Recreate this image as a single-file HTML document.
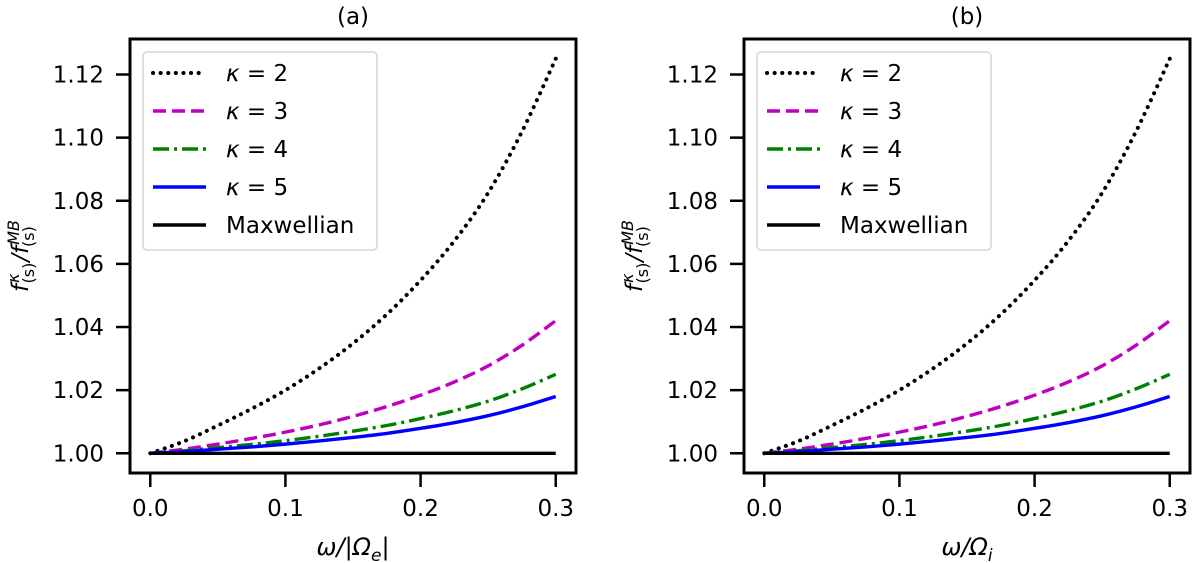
<!DOCTYPE html>
<html><head><meta charset="utf-8">
<style>
html,body{margin:0;padding:0;background:#fff;}
svg{display:block;font-family:"DejaVu Sans","Liberation Sans",sans-serif;}
</style></head>
<body>
<svg id="fig" width="1200" height="563" viewBox="0 0 1200 563" xmlns="http://www.w3.org/2000/svg"></svg>
<script>
const xValues = [0, 0.025, 0.05, 0.075, 0.1, 0.125, 0.15, 0.175, 0.2, 0.225, 0.25, 0.275, 0.3];
const kappa2 = [1.000, 1.0038, 1.0088, 1.0141, 1.0200, 1.0269, 1.0348, 1.0440, 1.0548, 1.0673, 1.0825, 1.1019, 1.125];
const kappa3 = [1.000, 1.0013, 1.0029, 1.0047, 1.0067, 1.0090, 1.0117, 1.0148, 1.0184, 1.0226, 1.0277, 1.0342, 1.042];
const kappa4 = [1.000, 1.0008, 1.0018, 1.0028, 1.0040, 1.0054, 1.0070, 1.0088, 1.0110, 1.0135, 1.0165, 1.0204, 1.025];
const kappa5 = [1.000, 1.0005, 1.0013, 1.0020, 1.0029, 1.0039, 1.0050, 1.0063, 1.0079, 1.0097, 1.0119, 1.0147, 1.018];
const maxwellian = [1, 1, 1, 1, 1, 1, 1, 1, 1, 1, 1, 1, 1];
const xTicks = [0.0, 0.1, 0.2, 0.3];
const xTickLabels = ["0.0", "0.1", "0.2", "0.3"];
const yTicks = [1.00, 1.02, 1.04, 1.06, 1.08, 1.10, 1.12];
const yTickLabels = ["1.00", "1.02", "1.04", "1.06", "1.08", "1.10", "1.12"];
const legendLabels = ["κ = 2", "κ = 3", "κ = 4", "κ = 5", "Maxwellian"];

const NS = "http://www.w3.org/2000/svg";
const svg = document.getElementById("fig");
function el(tag, attrs, parent) {
  const e = document.createElementNS(NS, tag);
  for (const k in attrs) e.setAttribute(k, attrs[k]);
  (parent || svg).appendChild(e);
  return e;
}
function smoothPath(pts) {
  let d = "M" + pts[0][0].toFixed(2) + " " + pts[0][1].toFixed(2);
  for (let i = 0; i < pts.length - 1; i++) {
    const p0 = pts[Math.max(0, i - 1)], p1 = pts[i], p2 = pts[i + 1], p3 = pts[Math.min(pts.length - 1, i + 2)];
    const c1x = p1[0] + (p2[0] - p0[0]) / 6, c1y = p1[1] + (p2[1] - p0[1]) / 6;
    const c2x = p2[0] - (p3[0] - p1[0]) / 6, c2y = p2[1] - (p3[1] - p1[1]) / 6;
    d += " C" + c1x.toFixed(2) + " " + c1y.toFixed(2) + " " + c2x.toFixed(2) + " " + c2y.toFixed(2) + " " + p2[0].toFixed(2) + " " + p2[1].toFixed(2);
  }
  return d;
}
const series = [
  {vals: kappa2, color: "#000", dash: "0.1 7.5", cap: "round", key: "kappa-2"},
  {vals: kappa3, color: "#bf00bf", dash: "13 6", cap: "butt", key: "kappa-3"},
  {vals: kappa4, color: "#008000", dash: "16 5 3 5", cap: "butt", key: "kappa-4"},
  {vals: kappa5, color: "#0000ff", dash: "none", cap: "butt", key: "kappa-5"},
  {vals: maxwellian, color: "#000", dash: "none", cap: "butt", key: "maxwellian"}
];
const panels = [
  {left: 130, title: "(a)", xlab: "ω/|Ω", sub: "e", close: "|", name: "panel-a"},
  {left: 744, title: "(b)", xlab: "ω/Ω", sub: "i", close: "", name: "panel-b"}
];
const W = 446, plotTop = 39, plotBottom = 473;
const xmin = -0.015, xmax = 0.315, ymin = 0.99375, ymax = 1.13125;

panels.forEach(p => {
  const g = el("g", {});
  
  
  const sx = v => p.left + (v - xmin) / (xmax - xmin) * W;
  const sy = v => plotBottom - (v - ymin) / (ymax - ymin) * (plotBottom - plotTop);

  series.forEach(s => {
    const pts = xValues.map((x, i) => [sx(x), sy(s.vals[i])]);
    const path = el("path", {d: smoothPath(pts), fill: "none", stroke: s.color, "stroke-width": s.cap === "round" ? 4 : 3.4, "stroke-dasharray": s.dash, "stroke-linecap": s.cap, "stroke-linejoin": "round"}, g);
    
    
  });

  const frame = el("rect", {x: p.left, y: plotTop, width: W, height: plotBottom - plotTop, fill: "none", stroke: "#000", "stroke-width": 3}, g);
  
  

  xTicks.forEach((t, i) => {
    const x = sx(t);
    el("line", {x1: x, x2: x, y1: plotBottom, y2: plotBottom + 14, stroke: "#000", "stroke-width": 2.5}, g);
    const tx = el("text", {x: x, y: 516, "font-size": 23, "text-anchor": "middle"}, g);
    tx.textContent = xTickLabels[i];
    
    
  });
  yTicks.forEach((t, i) => {
    const y = sy(t);
    el("line", {x1: p.left - 14, x2: p.left, y1: y, y2: y, stroke: "#000", "stroke-width": 2.5}, g);
    const ty = el("text", {x: p.left - 26, y: y + 8, "font-size": 23, "text-anchor": "end"}, g);
    ty.textContent = yTickLabels[i];
    
    
  });

  const tt = el("text", {x: p.left + W / 2, y: 24, "font-size": 23, "text-anchor": "middle"}, g);
  tt.textContent = p.title;
  
  

  const xl = el("text", {x: p.left + W / 2, y: 555, "font-size": 24, "text-anchor": "middle", "font-style": "italic"}, g);
  
  
  xl.innerHTML = p.xlab + '<tspan font-size="17" dy="6">' + p.sub + '</tspan><tspan dy="-6" font-style="normal">' + p.close + '</tspan>';

  const yl = el("text", {x: 0, y: 0, "font-size": 23, "text-anchor": "middle", "font-style": "italic", transform: "translate(" + (p.left - 102) + ",256) rotate(-90)"}, g);
  
  
  yl.innerHTML = 'f<tspan font-size="16" dx="1" dy="-9">κ</tspan><tspan font-size="16" dx="-10" dy="15" font-style="normal">(s)</tspan><tspan dx="1" dy="-6">/f</tspan><tspan font-size="16" dx="1" dy="-9">MB</tspan><tspan font-size="16" dx="-27" dy="15" font-style="normal">(s)</tspan>';

  const lg = el("g", {}, g);
  
  
  el("rect", {x: p.left + 13, y: 52, width: 234, height: 198, rx: 4, fill: "#fff", "fill-opacity": 0.8, stroke: "#d6d6d6", "stroke-width": 1.5}, lg);
  series.forEach((s, i) => {
    const y = 73 + i * 38;
    const entry = el("g", {}, lg);
    
    
    el("line", {x1: p.left + 23, x2: p.left + 76, y1: y, y2: y, stroke: s.color, "stroke-width": s.cap === "round" ? 4 : 3.4, "stroke-dasharray": s.dash, "stroke-linecap": s.cap}, entry);
    const t = el("text", {x: p.left + 96, y: y + 8, "font-size": 23}, entry);
    if (i < 4) t.innerHTML = '<tspan font-style="italic">κ</tspan> = ' + legendLabels[i].split("= ")[1];
    else t.textContent = legendLabels[i];
  });
});
</script>
</body></html>
